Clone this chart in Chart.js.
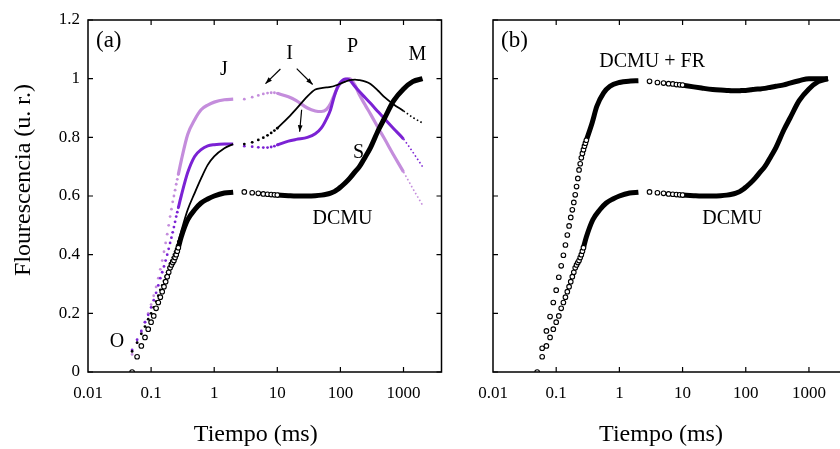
<!DOCTYPE html>
<html>
<head>
<meta charset="utf-8">
<script src="https://cdn.jsdelivr.net/npm/chart.js@4.4.1/dist/chart.umd.min.js"></script>
<style>
  html, body { margin: 0; padding: 0; background: #fff; overflow: hidden; width: 840px; height: 449px; }
  canvas { position: absolute; top: 0; }
</style>
</head>
<body>
<canvas id="chartA" width="470" height="449" style="left:0"></canvas>
<canvas id="chartB" width="400" height="449" style="left:460px"></canvas>
<script>
const serif = '"Liberation Serif", "Times New Roman", serif';

// axis ticks
const xTicks = [0.01, 0.1, 1, 10, 100, 1000];
const yTicks = [0, 0.2, 0.4, 0.6, 0.8, 1, 1.2];

// time grids (ms)
const tRise = [0.05, 0.06, 0.07, 0.08, 0.09, 0.1, 0.11, 0.12, 0.13, 0.14, 0.15, 0.16, 0.17, 0.18, 0.19, 0.2, 0.21, 0.22, 0.23, 0.24, 0.25, 0.26, 0.27];
const tJ = [0.3, 0.38, 0.49, 0.62, 0.79, 1, 1.45, 2];
const tI = [3, 4, 5, 6, 7, 8, 9, 10];
const tP = [15, 20, 30, 40, 50, 60, 70, 80, 90, 100, 120, 140, 170, 200, 250, 300, 400, 500, 700, 1000, 1400, 2000];

// light purple curve
const lightRise = [0.06, 0.1, 0.135, 0.17, 0.2, 0.23, 0.26, 0.29, 0.32, 0.35, 0.38, 0.41, 0.44, 0.47, 0.5, 0.53, 0.555, 0.58, 0.6, 0.62, 0.64, 0.657, 0.673];
const lightJ = [0.72, 0.81, 0.86, 0.894, 0.91, 0.92, 0.928, 0.93];
const lightI = [0.93, 0.937, 0.943, 0.948, 0.951, 0.952, 0.952, 0.95];
const lightP = [0.938, 0.925, 0.9, 0.89, 0.888, 0.895, 0.915, 0.945, 0.97, 0.985, 0.997, 1.0, 0.978, 0.945, 0.908, 0.879, 0.831, 0.795, 0.739, 0.682, 0.626, 0.569];

// purple curve
const purpleRise = [0.075, 0.11, 0.14, 0.17, 0.195, 0.22, 0.245, 0.27, 0.295, 0.32, 0.34, 0.36, 0.38, 0.4, 0.42, 0.44, 0.458, 0.476, 0.494, 0.512, 0.53, 0.545, 0.56];
const purpleJ = [0.6, 0.68, 0.735, 0.758, 0.771, 0.775, 0.777, 0.777];
const purpleI = [0.77, 0.768, 0.766, 0.765, 0.765, 0.767, 0.77, 0.774];
const purpleP = [0.787, 0.793, 0.8, 0.812, 0.832, 0.862, 0.895, 0.94, 0.97, 0.987, 0.999, 0.995, 0.973, 0.956, 0.934, 0.916, 0.886, 0.863, 0.829, 0.794, 0.75, 0.7];

// black control curve
const blackRise = [0.07, 0.1, 0.13, 0.155, 0.18, 0.2, 0.22, 0.24, 0.26, 0.28, 0.295, 0.31, 0.325, 0.34, 0.355, 0.37, 0.38, 0.39, 0.4, 0.41, 0.42, 0.432, 0.444];
const blackJ = [0.48, 0.553, 0.61, 0.66, 0.706, 0.735, 0.763, 0.777];
const blackI = [0.777, 0.783, 0.791, 0.799, 0.807, 0.815, 0.823, 0.831];
const blackP = [0.868, 0.897, 0.94, 0.963, 0.968, 0.97, 0.972, 0.975, 0.979, 0.983, 0.99, 0.995, 0.997, 0.995, 0.99, 0.982, 0.958, 0.937, 0.912, 0.89, 0.868, 0.849];

// DCMU
const dcmuRise = [0, 0.052, 0.089, 0.118, 0.146, 0.17, 0.191, 0.217, 0.237, 0.255, 0.274, 0.291, 0.308, 0.325, 0.34, 0.355, 0.365, 0.373, 0.38, 0.39, 0.4, 0.412, 0.424];
const dcmuJ = [0.46, 0.519, 0.553, 0.576, 0.59, 0.6, 0.61, 0.613];
const dcmuI = [0.614, 0.611, 0.609, 0.607, 0.606, 0.605, 0.604, 0.603];
const dcmuP = [0.601, 0.6, 0.6, 0.601, 0.603, 0.606, 0.61, 0.615, 0.622, 0.63, 0.645, 0.66, 0.682, 0.7, 0.735, 0.765, 0.825, 0.865, 0.925, 0.965, 0.99, 1.0];

// DCMU + FR (panel b)
const tRiseFR = [0.06, 0.07, 0.08, 0.09, 0.1, 0.11, 0.12, 0.13, 0.14, 0.15, 0.16, 0.17, 0.18, 0.19, 0.2, 0.21, 0.22, 0.23, 0.24, 0.25, 0.26, 0.27, 0.28, 0.29, 0.3];
const tJFR = [0.37, 0.44, 0.56, 0.71, 1, 1.5, 2];
const frRise = [0.081, 0.14, 0.189, 0.237, 0.279, 0.323, 0.362, 0.398, 0.433, 0.467, 0.498, 0.527, 0.553, 0.578, 0.604, 0.632, 0.66, 0.689, 0.71, 0.73, 0.745, 0.758, 0.77, 0.78, 0.79];
const frJ = [0.849, 0.906, 0.951, 0.974, 0.987, 0.992, 0.993];
const frI = [0.991, 0.987, 0.985, 0.983, 0.982, 0.98, 0.979, 0.978];
const frP = [0.972, 0.968, 0.963, 0.961, 0.96, 0.959, 0.959, 0.959, 0.96, 0.96, 0.962, 0.964, 0.965, 0.967, 0.971, 0.974, 0.979, 0.985, 0.993, 1.0, 1.0, 1.0];

const lightColor = '#c48ddc';
const purpleColor = '#7b22d4';

function pts(t, v) {
  return t.map((x, i) => ({ x: x, y: v[i] }));
}

// builds the four pieces of one trace: sparse dots, dense rise, sparse dots after the gap, dense tail
function trace(s) {
  const dot = s.open
    ? { pointRadius: 2.3, pointBorderWidth: 1.1, pointBorderColor: '#000', pointBackgroundColor: '#fff' }
    : { pointRadius: 1.4, pointBorderWidth: 0, pointBackgroundColor: s.color };
  const riseDots = pts(s.tr, s.rise);
  const midDots = pts(tI, s.mid);
  const line = { showLine: true, pointRadius: 0, borderColor: s.color, borderWidth: s.width, cubicInterpolationMode: 'monotone' };
  const tail = s.tail ? {
    borderWidth: ctx => ctx.p0.parsed.x >= 999 ? 1.6 : undefined,
    borderDash: ctx => ctx.p0.parsed.x >= 999 ? [1.6, 2.4] : undefined
  } : {};
  return [
    Object.assign({ data: riseDots, showLine: false }, dot),
    Object.assign({ data: [riseDots[riseDots.length - 1]].concat(pts(s.tj, s.j)) }, line),
    Object.assign({ data: midDots, showLine: false }, dot),
    Object.assign({ data: [midDots[midDots.length - 1]].concat(pts(tP, s.late)), segment: tail }, line)
  ];
}

const framePlugin = {
  id: 'frame',
  afterDraw(chart, args, opts) {
    const { ctx, chartArea: a, scales: { x, y } } = chart;
    ctx.save();
    ctx.strokeStyle = '#000';
    ctx.lineWidth = 1.5;
    ctx.strokeRect(a.left, a.top, a.right - a.left, a.bottom - a.top);
    ctx.lineWidth = 1.2;
    ctx.beginPath();
    xTicks.forEach(v => {
      const px = x.getPixelForValue(v);
      if (px < a.left + 2) return;
      ctx.moveTo(px, a.bottom); ctx.lineTo(px, a.bottom - 5);
      ctx.moveTo(px, a.top); ctx.lineTo(px, a.top + 5);
    });
    yTicks.forEach(v => {
      const py = y.getPixelForValue(v);
      ctx.moveTo(a.left, py); ctx.lineTo(a.left + 5, py);
      ctx.moveTo(a.right, py); ctx.lineTo(a.right - 5, py);
    });
    ctx.stroke();

    ctx.fillStyle = '#000';
    ctx.textAlign = 'center';
    ctx.textBaseline = 'middle';

    // panel letter
    ctx.font = '23px ' + serif;
    ctx.textAlign = 'left';
    ctx.fillText(opts.panel, a.left + 8, a.top + 21);
    ctx.textAlign = 'center';

    // annotations
    ctx.font = '20px ' + serif;
    opts.notes.forEach(n => ctx.fillText(n.text, x.getPixelForValue(n.t), y.getPixelForValue(n.v)));

    // arrows
    (opts.arrows || []).forEach(ar => {
      const x0 = x.getPixelForValue(ar[0]), y0 = y.getPixelForValue(ar[1]);
      const x1 = x.getPixelForValue(ar[2]), y1 = y.getPixelForValue(ar[3]);
      const ang = Math.atan2(y1 - y0, x1 - x0);
      ctx.lineWidth = 1.2;
      ctx.beginPath();
      ctx.moveTo(x0, y0); ctx.lineTo(x1, y1);
      ctx.stroke();
      ctx.beginPath();
      ctx.moveTo(x1, y1);
      ctx.lineTo(x1 - 7 * Math.cos(ang - 0.35), y1 - 7 * Math.sin(ang - 0.35));
      ctx.lineTo(x1 - 7 * Math.cos(ang + 0.35), y1 - 7 * Math.sin(ang + 0.35));
      ctx.closePath();
      ctx.fill();
    });

    // axis titles
    ctx.font = '24px ' + serif;
    ctx.fillText('Tiempo (ms)', (a.left + a.right) / 2 - 9, 435);
    if (opts.yTitle) {
      ctx.translate(24, 180);
      ctx.rotate(-Math.PI / 2);
      ctx.fillText(opts.yTitle, 0, 0);
    }
    ctx.restore();
  }
};

function makeChart(id, datasets, yWidth, padRight, showY, frameOpts) {
  return new Chart(document.getElementById(id), {
    type: 'scatter',
    data: { datasets: datasets },
    options: {
      responsive: false,
      animation: false,
      events: [],
      layout: { padding: { left: 0, right: padRight, top: 20, bottom: 0 } },
      scales: {
        x: {
          type: 'logarithmic',
          min: 0.01,
          max: 4000,
          grid: { display: false, drawTicks: false },
          border: { display: false },
          afterBuildTicks: s => { s.ticks = xTicks.map(v => ({ value: v })); },
          afterFit: s => { s.height = 77; },
          ticks: {
            autoSkip: false,
            maxRotation: 0,
            padding: 11,
            color: '#000',
            font: { family: serif, size: 17 },
            callback: v => String(v)
          }
        },
        y: {
          min: 0,
          max: 1.2,
          grid: { display: false, drawTicks: false },
          border: { display: false },
          afterBuildTicks: s => { s.ticks = yTicks.map(v => ({ value: v })); },
          afterFit: s => { s.width = yWidth; },
          ticks: {
            display: showY,
            padding: 8,
            color: '#000',
            font: { family: serif, size: 17 },
            callback: v => String(v)
          }
        }
      },
      plugins: {
        legend: { display: false },
        tooltip: { enabled: false },
        frame: frameOpts
      }
    },
    plugins: [framePlugin]
  });
}

const dcmuTrace = { color: '#000', width: 5, open: true, tr: tRise, tj: tJ, rise: dcmuRise, j: dcmuJ, mid: dcmuI, late: dcmuP };

makeChart('chartA',
  [].concat(
    trace(dcmuTrace),
    trace({ color: '#000', width: 1.8, tail: true, tr: tRise, tj: tJ, rise: blackRise, j: blackJ, mid: blackI, late: blackP }),
    trace({ color: purpleColor, width: 3, tail: true, tr: tRise, tj: tJ, rise: purpleRise, j: purpleJ, mid: purpleI, late: purpleP }),
    trace({ color: lightColor, width: 3.2, tail: true, tr: tRise, tj: tJ, rise: lightRise, j: lightJ, mid: lightI, late: lightP })
  ),
  88, 28.5, true,
  {
    panel: '(a)',
    yTitle: 'Flourescencia (u. r.)',
    notes: [
      { text: 'J', t: 1.42, v: 1.031 },
      { text: 'I', t: 15.7, v: 1.085 },
      { text: 'P', t: 156, v: 1.109 },
      { text: 'M', t: 1667, v: 1.082 },
      { text: 'S', t: 194, v: 0.747 },
      { text: 'DCMU', t: 108, v: 0.522 },
      { text: 'O', t: 0.0288, v: 0.102 }
    ],
    arrows: [
      [11.2, 1.033, 6.5, 0.983],
      [20.3, 1.034, 36.3, 0.98],
      [24.3, 0.894, 22.6, 0.819]
    ]
  }
);

makeChart('chartB',
  [].concat(
    trace(dcmuTrace),
    trace({ color: '#000', width: 5, open: true, tr: tRiseFR, tj: tJFR, rise: frRise, j: frJ, mid: frI, late: frP })
  ),
  33, 13, false,
  {
    panel: '(b)',
    notes: [
      { text: 'DCMU + FR', t: 3.3, v: 1.058 },
      { text: 'DCMU', t: 61, v: 0.522 }
    ]
  }
);
</script>
</body>
</html>
